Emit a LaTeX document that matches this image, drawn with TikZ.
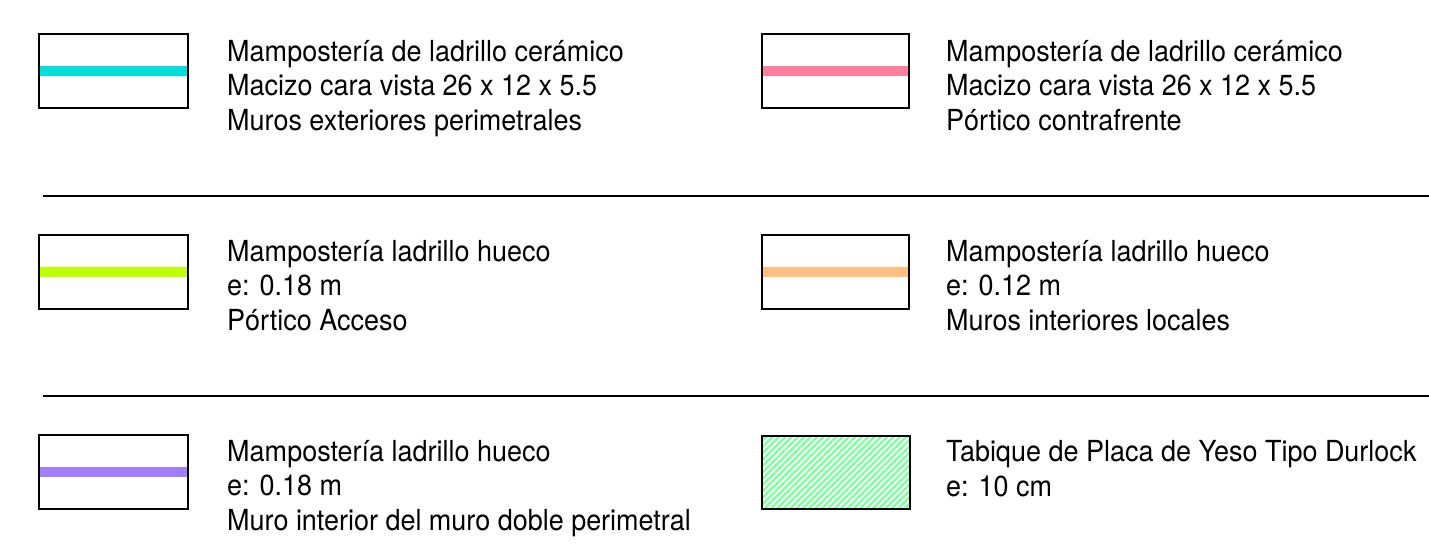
\documentclass[tikz,border=0pt]{standalone}
\usepackage{fontspec}
\setmainfont{TeX Gyre Heros}[FakeStretch=0.93]
\usetikzlibrary{patterns.meta}
\definecolor{ccyan}{RGB}{0,222,222}
\definecolor{cpink}{RGB}{255,127,159}
\definecolor{clime}{RGB}{191,255,0}
\definecolor{corange}{RGB}{255,191,127}
\definecolor{cpurple}{RGB}{159,127,255}
\definecolor{chatch}{RGB}{127,255,159}
\tikzset{
  swatch/.style={draw=black, line width=2pt},
  band/.style={line width=10pt},
  sep/.style={draw=black, line width=2.2pt},
  legtext/.style={anchor=base west, inner sep=0pt, align=left, font=\fontsize{29}{34.5}\selectfont, text=black}
}
\begin{document}
\begin{tikzpicture}[x=1pt,y=-1pt]
\useasboundingbox (0,0) rectangle (1429,554);
% row 1
\draw[band,ccyan] (40,71) -- (188,71);
\draw[swatch] (39,34) rectangle (188,108);
\node[legtext] (t1) at (227,130) {Mampostería de ladrillo cerámico\\Macizo cara vista 26 x 12 x 5.5\\Muros exteriores perimetrales};
\draw[band,cpink] (762,71) -- (909,71);
\draw[swatch] (762,34) rectangle (909,108);
\node[legtext] (t2) at (946,130) {Mampostería de ladrillo cerámico\\Macizo cara vista 26 x 12 x 5.5\\Pórtico contrafrente};
\coordinate (s1a) at (43,196); \coordinate (s1b) at (1429,196);
\draw[sep] (s1a) -- (s1b);
% row 2
\draw[band,clime] (40,272) -- (188,272);
\draw[swatch] (39,235) rectangle (188,309);
\node[legtext] (t3) at (227,330) {Mampostería ladrillo hueco\\e: 0.18 m\\Pórtico Acceso};
\draw[band,corange] (762,272) -- (909,272);
\draw[swatch] (762,235) rectangle (909,309);
\node[legtext] (t4) at (946,330) {Mampostería ladrillo hueco\\e: 0.12 m\\Muros interiores locales};
\coordinate (s2a) at (43,396); \coordinate (s2b) at (1429,396);
\draw[sep] (s2a) -- (s2b);
% row 3
\draw[band,cpurple] (40,472) -- (188,472);
\draw[swatch] (39,435) rectangle (188,509);
\node[legtext] (t5) at (227,530) {Mampostería ladrillo hueco\\e: 0.18 m\\Muro interior del muro doble perimetral};
\fill[pattern={Lines[angle=45,distance=4.5pt,line width=2.4pt]}, pattern color=chatch] (762,436) rectangle (910,509);
\draw[swatch] (762,436) rectangle (910,509);
\node[legtext] (t6) at (946,496) {Tabique de Placa de Yeso Tipo Durlock\\e: 10 cm};
\end{tikzpicture}
\end{document}
